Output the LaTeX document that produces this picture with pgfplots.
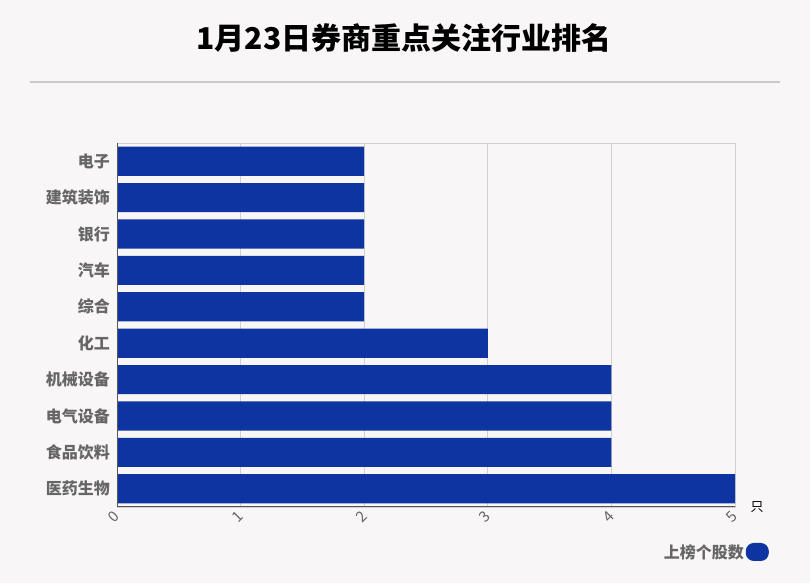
\documentclass[border=0pt]{standalone}
\usepackage{pgfplots}
\pgfplotsset{compat=1.18}
\usepackage{fontspec}
\setmainfont{Noto Sans CJK SC}
\definecolor{bg}{HTML}{F9F6F7}
\definecolor{barblue}{HTML}{0D34A0}
\definecolor{sep}{HTML}{C8C8C8}
\definecolor{gridc}{HTML}{D0D0D0}
\definecolor{lab}{HTML}{666666}
\definecolor{axdark}{HTML}{555555}
\begin{document}
\begin{tikzpicture}[x=1pt,y=1pt]
\fill[bg] (0,0) rectangle (810,583);
\node[font=\fontsize{30}{34}\selectfont\bfseries] at (404,545) {1月23日券商重点关注行业排名};
\draw[line width=2pt, sep] (30,501) -- (780,501);
\begin{axis}[
  at={(117pt,76pt)}, anchor=south west,
  scale only axis, width=618pt, height=364pt,
  xbar, bar width=0.8,
  xmin=0, xmax=5, ymin=-0.5, ymax=9.5,
  xtick={0,1,2,3,4,5},
  ytick={0,...,9},
  yticklabels={医药生物,食品饮料,电气设备,机械设备,化工,综合,汽车,银行,建筑装饰,电子},
  major tick length=0pt,
  xmajorgrids, grid style={gridc, line width=0.8pt},
  axis line style={draw=gridc},
  /pgf/number format/assume math mode=true,
  xticklabel style={font=\fontsize{15}{15}\selectfont, text=lab, rotate=45, anchor=east, inner sep=3pt, yshift=-5pt, xshift=-2pt},
  yticklabel style={font=\fontsize{16}{16}\selectfont\bfseries, text=lab, inner sep=7pt},
  xlabel={只},
  xlabel style={at={(axis description cs:1,0)}, anchor=west, font=\fontsize{13}{13}\selectfont, xshift=12pt, yshift=0pt},
  legend plot pos=right,
  legend style={at={(1.055,-0.1236)}, anchor=east, draw=none, fill=none, font=\fontsize{16}{16}\selectfont\bfseries, text=lab, inner sep=0pt},
  legend image code/.code={\fill[barblue, rounded corners=8pt] (0pt,-9pt) rectangle (23pt,9pt);},
]
\addplot[fill=barblue, draw=none] coordinates {(5,0) (4,1) (4,2) (4,3) (3,4) (2,5) (2,6) (2,7) (2,8) (2,9)};
\addlegendentry{上榜个股数}
\draw[axdark, line width=1pt] (rel axis cs:0,1) -- (rel axis cs:0,0) -- (rel axis cs:1,0);
\end{axis}
\end{tikzpicture}
\end{document}
